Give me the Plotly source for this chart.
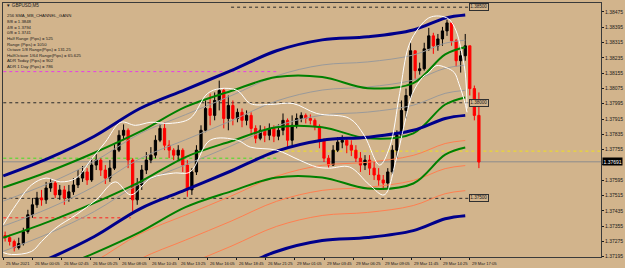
import plotly.graph_objects as go

# ---------------- DATA ----------------
SYMBOL = "GBPUSD,M5"
INFO_LINES = [
    "256 SMA_MB_CHANNEL_GANN",
    "8/8 = 1.3848",
    "4/8 = 1.3794",
    "0/8 = 1.3741",
    "Half Range (Pips) = 525",
    "Range (Pips) = 1050",
    "Octave 1/8 Range(Pips) = 131.25",
    "HalfOctave 1/64 Range(Pips) = 65.625",
    "ADR Today (Pips) = 902",
    "ADR 1 Day (Pips) = 786",
]
RANGE_POINTS = 1050
POINT = 0.00001
BARS_PER_CANDLE = 5

FIRST_OPEN = 1.37305
CLOSE = [1.37294, 1.37274, 1.37242, 1.37263, 1.37326, 1.37414, 1.37466, 1.37502, 1.37492, 1.37554,
         1.37580, 1.37518, 1.37544, 1.37502, 1.37534, 1.37570, 1.37606, 1.37638, 1.37596, 1.37674,
         1.37700, 1.37648, 1.37606, 1.37658, 1.37752, 1.37830, 1.37856, 1.37700, 1.37492, 1.37570,
         1.37648, 1.37700, 1.37726, 1.37804, 1.37866, 1.37778, 1.37752, 1.37726, 1.37752, 1.37674,
         1.37544, 1.37638, 1.37752, 1.37856, 1.37970, 1.37934, 1.38012, 1.38064, 1.37918, 1.37986,
         1.37918, 1.37950, 1.37908, 1.37934, 1.37866, 1.37814, 1.37856, 1.37830, 1.37866, 1.37825,
         1.37856, 1.37908, 1.37804, 1.37882, 1.37918, 1.37934, 1.37918, 1.37908, 1.37877, 1.37804,
         1.37710, 1.37674, 1.37752, 1.37794, 1.37804, 1.37778, 1.37752, 1.37710, 1.37674, 1.37700,
         1.37658, 1.37622, 1.37596, 1.37580, 1.37638, 1.37752, 1.37830, 1.37960, 1.38038, 1.38272,
         1.38168, 1.38178, 1.38282, 1.38350, 1.38298, 1.38334, 1.38376, 1.38418, 1.38324, 1.38220,
         1.38246, 1.38298, 1.38074, 1.37934, 1.37690]
HIGH = [1.37326, 1.37310, 1.37284, 1.37294, 1.37346, 1.37440, 1.37502, 1.37534, 1.37544, 1.37586,
        1.37606, 1.37596, 1.37570, 1.37565, 1.37570, 1.37606, 1.37648, 1.37669, 1.37658, 1.37710,
        1.37731, 1.37710, 1.37674, 1.37700, 1.37783, 1.37856, 1.37887, 1.37866, 1.37710, 1.37606,
        1.37674, 1.37742, 1.37768, 1.37830, 1.37887, 1.37898, 1.37804, 1.37762, 1.37778, 1.37762,
        1.37700, 1.37658, 1.37778, 1.37882, 1.38012, 1.38048, 1.38054, 1.38116, 1.38074, 1.38038,
        1.38012, 1.37970, 1.37970, 1.37960, 1.37950, 1.37882, 1.37882, 1.37877, 1.37892, 1.37882,
        1.37887, 1.37944, 1.37918, 1.37934, 1.37944, 1.37950, 1.37944, 1.37939, 1.37918, 1.37887,
        1.37814, 1.37726, 1.37778, 1.37820, 1.37830, 1.37814, 1.37804, 1.37778, 1.37742, 1.37726,
        1.37726, 1.37690, 1.37658, 1.37622, 1.37658, 1.37778, 1.37856, 1.38012, 1.38074, 1.38314,
        1.38272, 1.38210, 1.38314, 1.38392, 1.38366, 1.38360, 1.38397, 1.38433, 1.38418, 1.38334,
        1.38272, 1.38360, 1.38298, 1.38090, 1.38054]
LOW = [1.37274, 1.37253, 1.37222, 1.37232, 1.37253, 1.37315, 1.37398, 1.37450, 1.37461, 1.37471,
       1.37534, 1.37502, 1.37492, 1.37466, 1.37482, 1.37518, 1.37554, 1.37586, 1.37570, 1.37586,
       1.37648, 1.37617, 1.37575, 1.37586, 1.37648, 1.37742, 1.37804, 1.37658, 1.37430, 1.37466,
       1.37544, 1.37627, 1.37684, 1.37710, 1.37794, 1.37752, 1.37710, 1.37700, 1.37700, 1.37638,
       1.37508, 1.37518, 1.37622, 1.37742, 1.37846, 1.37882, 1.37908, 1.37960, 1.37866, 1.37856,
       1.37882, 1.37898, 1.37872, 1.37882, 1.37830, 1.37788, 1.37804, 1.37794, 1.37804, 1.37794,
       1.37804, 1.37830, 1.37768, 1.37778, 1.37866, 1.37898, 1.37892, 1.37887, 1.37856, 1.37762,
       1.37690, 1.37658, 1.37669, 1.37742, 1.37762, 1.37736, 1.37721, 1.37690, 1.37638, 1.37648,
       1.37622, 1.37596, 1.37565, 1.37544, 1.37554, 1.37622, 1.37710, 1.37814, 1.37918, 1.38022,
       1.38126, 1.38147, 1.38168, 1.38272, 1.38256, 1.38272, 1.38298, 1.38350, 1.38298, 1.38189,
       1.38158, 1.38220, 1.38038, 1.37908, 1.37658]

# indicator samples (bar index -> price)
BAND_BARS = [0, 50, 100, 150, 200, 250, 300, 350, 400, 450, 485, 507]
SMA_MID = [1.37092, 1.37185, 1.37300, 1.37445, 1.37544, 1.37643, 1.37747, 1.37804, 1.37820, 1.37856, 1.37918, 1.37934]
GREEN_MID = [1.37294, 1.37378, 1.37476, 1.37586, 1.37716, 1.37799, 1.37872, 1.37872, 1.37814, 1.37840, 1.37991, 1.38028]

UPPER_WHITE_BARS = [0, 14, 31, 47, 63, 80, 96, 112, 129, 145, 162, 183, 205, 224, 238, 257, 271, 293, 318,
                    344, 380, 396, 413, 424, 435, 445, 456, 467, 478, 489, 497, 502, 507, 509]
UPPER_WHITE = [1.37362, 1.37466, 1.37570, 1.37606, 1.37586, 1.37606, 1.37700, 1.37794, 1.37898, 1.37882,
               1.37898, 1.37892, 1.37918, 1.38048, 1.38074, 1.38064, 1.37996, 1.37991, 1.37996, 1.37944,
               1.37918, 1.37830, 1.37674, 1.37768, 1.38048, 1.38298, 1.38392, 1.38444, 1.38454, 1.38438,
               1.38376, 1.38288, 1.38158, 1.37970]
LOWER_WHITE_BARS = [0, 9, 31, 42, 58, 80, 102, 123, 140, 162, 187, 205, 227, 257, 271, 300, 325, 344, 358,
                    380, 402, 418, 431, 442, 449, 460, 467, 475, 486, 495, 500, 506, 509]
LOWER_WHITE = [1.37216, 1.37206, 1.37222, 1.37274, 1.37346, 1.37414, 1.37492, 1.37586, 1.37518, 1.37606,
               1.37632, 1.37638, 1.37804, 1.37804, 1.37768, 1.37752, 1.37700, 1.37664, 1.37658, 1.37664,
               1.37570, 1.37518, 1.37700, 1.37924, 1.38048, 1.38132, 1.38158, 1.38194, 1.38184, 1.38158,
               1.38100, 1.38012, 1.37950]

# horizontal levels: price, start bar, end bar, color, dash
LEVELS = [
    (1.38500, 250, 511, "#2a2a2a", "dot"),
    (1.38000, 0, 511, "#2a2a2a", "dot"),
    (1.37500, 0, 511, "#2a2a2a", "dot"),
    (1.38163, 0, 303, "#e83ce8", "dot"),
    (1.37710, 0, 303, "#40e020", "dot"),
    (1.37398, 0, 140, "#ff2020", "dot"),
    (1.37747, 303, 660, "#f0e020", "dot"),
]
LEVEL_LABELS = [1.38500, 1.38000, 1.37500]
BID = 1.37691

TIME_LABELS = ["25 Mar 2021", "26 Mar 00:05", "26 Mar 02:45", "26 Mar 05:25", "26 Mar 08:05",
               "26 Mar 10:45", "26 Mar 13:25", "26 Mar 16:05", "26 Mar 18:45", "26 Mar 21:25",
               "29 Mar 01:05", "29 Mar 03:45", "29 Mar 06:25", "29 Mar 09:05", "29 Mar 11:45",
               "29 Mar 14:25", "29 Mar 17:05"]
TIME_STEP = 32
PRICE_TICKS = [1.38475 - 0.0008 * i for i in range(17)]

# ---------------- FIGURE ----------------
BG = "#D2B48C"
FG = "#1a1a1a"
FONT = "Liberation Sans"

OPEN = [FIRST_OPEN] + CLOSE[:-1]
H = [max(h, o, c) for h, o, c in zip(HIGH, OPEN, CLOSE)]
L = [min(l, o, c) for l, o, c in zip(LOW, OPEN, CLOSE)]
cx = [BARS_PER_CANDLE * k + 2 for k in range(len(CLOSE))]

fig = go.Figure()
fig.add_trace(go.Candlestick(
    x=cx, open=OPEN, high=H, low=L, close=CLOSE,
    increasing=dict(line=dict(color="black", width=1), fillcolor="black"),
    decreasing=dict(line=dict(color="#ff0000", width=1), fillcolor="#ff0000"),
    whiskerwidth=0, hoverinfo="skip", showlegend=False))

eighth = RANGE_POINTS * POINT / 8.0


def add_line(xs, ys, color, width):
    fig.add_trace(go.Scatter(x=xs, y=ys, mode="lines",
                             line=dict(color=color, width=width, shape="spline", smoothing=1.0),
                             hoverinfo="skip", showlegend=False))


for k in (1, 2, 3):
    add_line(BAND_BARS, [v + k * eighth for v in SMA_MID], "#9a9a9a", 1)
    add_line(BAND_BARS, [v - k * eighth for v in SMA_MID], "#ff7f50", 1)
for k in (-2, 0, 2):
    add_line(BAND_BARS, [v + k * eighth for v in GREEN_MID], "#008000", 2)
for k in (-4, 0, 4):
    add_line(BAND_BARS, [v + k * eighth for v in SMA_MID], "#00008b", 3)
add_line(UPPER_WHITE_BARS, UPPER_WHITE, "#ffffff", 1)
add_line(LOWER_WHITE_BARS, LOWER_WHITE, "#ffffff", 1)

shapes = []
for price, b0, b1, col, dash in LEVELS:
    shapes.append(dict(type="line", xref="x", yref="y", x0=b0, x1=b1, y0=price, y1=price,
                       line=dict(color=col, width=1, dash=dash), layer="below"))
shapes.append(dict(type="line", xref="paper", yref="y", x0=0, x1=1, y0=BID, y1=BID,
                   line=dict(color="#8c8c8c", width=1), layer="below"))
fig.update_layout(shapes=shapes)

ann = []
# info text
ann.append(dict(xref="paper", yref="paper", x=0.002, y=(257 - 5) / 255.0, xanchor="left", yanchor="middle",
                text="\u25BC " + SYMBOL, showarrow=False, font=dict(family=FONT, size=4.6, color=FG)))
for i, t in enumerate(INFO_LINES):
    py = 15 + i * 5.65
    ann.append(dict(xref="paper", yref="paper", x=0.003, y=(257 - py) / 255.0, xanchor="left",
                    yanchor="middle", text=t, showarrow=False, font=dict(family=FONT, size=4.3, color=FG)))
# time labels
for i, t in enumerate(TIME_LABELS):
    ann.append(dict(xref="x", yref="paper", x=i * TIME_STEP, y=0, xanchor="left", yanchor="top",
                    xshift=0.5, yshift=-1.5, text=t, showarrow=False, font=dict(family=FONT, size=4.2, color=FG)))
# level labels
for p in LEVEL_LABELS:
    ann.append(dict(xref="x", yref="y", x=511, y=p, xanchor="left", yanchor="middle", text=f"{p:.5f}",
                    showarrow=False, bgcolor=BG, bordercolor="#303030", borderwidth=1, borderpad=0.3,
                    font=dict(family=FONT, size=4.6, color=FG)))
# bid label
ann.append(dict(xref="paper", yref="y", x=1, y=BID, xanchor="left", yanchor="middle", xshift=1,
                text=f"{BID:.5f}", showarrow=False, bgcolor="#000000", borderpad=0.5,
                font=dict(family=FONT, size=5, color="white")))
fig.update_layout(annotations=ann)

# the tick label hidden behind the bid box in the reference is left blank
tick_text = ["" if abs(v - BID) < 0.0003 else f"{v:.5f}" for v in PRICE_TICKS]

fig.update_layout(
    width=625, height=268, margin=dict(l=2, r=22, t=2, b=11),
    paper_bgcolor=BG, plot_bgcolor=BG, showlegend=False,
    xaxis=dict(range=[-0.3, 656], showgrid=False, zeroline=False, rangeslider=dict(visible=False),
               tickmode="array", tickvals=[i * TIME_STEP for i in range(len(TIME_LABELS))],
               showticklabels=False, ticks="outside", ticklen=2, tickcolor=FG,
               showline=True, linecolor="#3a3a3a", linewidth=1, mirror=True),
    yaxis=dict(range=[1.37193, 1.38522], side="right", showgrid=False, zeroline=False,
               tickmode="array", tickvals=PRICE_TICKS, ticktext=tick_text,
               ticks="outside", ticklen=2, tickcolor=FG, tickfont=dict(family=FONT, size=5, color=FG),
               showline=True, linecolor="#3a3a3a", linewidth=1, mirror=True),
)

fig.write_html("out.html", config={"displayModeBar": False, "staticPlot": True})
